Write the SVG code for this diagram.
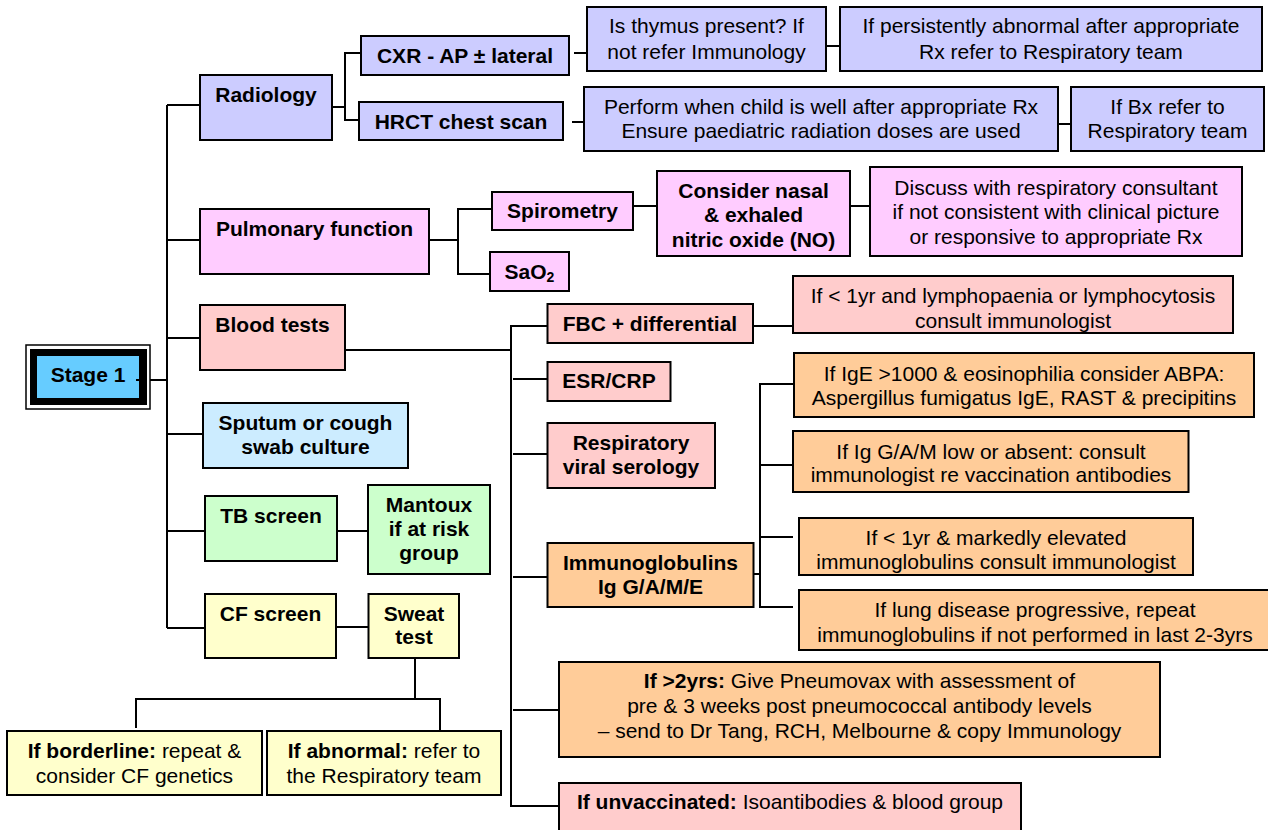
<svg xmlns="http://www.w3.org/2000/svg" width="1268" height="830" viewBox="0 0 1268 830">
<style>
.box{stroke:#000;stroke-width:2}
.rad{fill:#CCCCFF}.pul{fill:#FFCCFF}.bld{fill:#FFCCCC}.spu{fill:#CCECFF}.tb{fill:#CCFFCC}.cf{fill:#FFFFCC}.img{fill:#FFCC99}
.t{font-family:"Liberation Sans",Arial,Helvetica,sans-serif;font-size:21px;text-anchor:middle;fill:#000}
.b{font-weight:bold}
.c{fill:none;stroke:#000;stroke-width:2}
</style>
<rect width="1268" height="830" fill="#fff"/>
<g id="connectors" class="c">
<path d="M167,105 V628"/>
<path d="M136,380 H167"/>
<path d="M167,105 H200 M167,240 H200 M167,338 H200 M167,434 H203 M167,531 H205 M167,628 H205"/>
<path d="M332,107 H345 M361,53 H345 V120 H359"/>
<path d="M574,53 H587 M572,122 H584 M826,46 H840 M1058,124 H1071"/>
<path d="M427,240 H458 M492,209 H458 V274 H490"/>
<path d="M633,206 H657 M850,206 H870"/>
<path d="M345,350 H511 M547,326 H511 V806 H559 M513,379 H547 M513,454 H547 M513,577 H547 M513,710 H559"/>
<path d="M753,326 H793"/>
<path d="M746,574 H760 M794,384 H760 V607 H793 M760,465 H793 M760,537 H793"/>
<path d="M337,531 H368 M336,627 H368"/>
<path d="M415,658 V699 M136,728 V699 H440 V730"/>
</g>
<g id="stage1">
<rect x="26" y="345" width="124" height="64" fill="#fff" stroke="#000" stroke-width="1.5"/>
<rect x="30" y="349" width="117" height="56" fill="#000"/>
<rect x="37" y="356" width="102" height="42" fill="#66CCFF"/>
<path d="M136,380 H147" stroke="#000" stroke-width="2"/>
<text class="t b" x="88" y="382">Stage 1</text>
</g>
<g id="radiology"><rect class="box rad" x="200" y="75" width="132" height="65"/><text class="t b" x="266" y="102">Radiology</text></g>
<g id="cxr"><rect class="box rad" x="361" y="36" width="208" height="39"/><text class="t b" x="465" y="63">CXR - AP ± lateral</text></g>
<g id="hrct"><rect class="box rad" x="359" y="102" width="204" height="38"/><text class="t b" x="461" y="129">HRCT chest scan</text></g>
<g id="thymus"><rect class="box rad" x="587" y="7" width="239" height="64"/><text class="t" x="706.5" y="33">Is thymus present? If</text><text class="t" x="706.5" y="59">not refer Immunology</text></g>
<g id="persist"><rect class="box rad" x="840" y="7" width="422" height="64"/><text class="t" x="1051" y="33">If persistently abnormal after appropriate</text><text class="t" x="1051" y="59">Rx refer to Respiratory team</text></g>
<g id="perform"><rect class="box rad" x="584" y="87" width="474" height="64"/><text class="t" x="821" y="114">Perform when child is well after appropriate Rx</text><text class="t" x="821" y="138">Ensure paediatric radiation doses are used</text></g>
<g id="bx"><rect class="box rad" x="1071" y="87" width="193" height="64"/><text class="t" x="1167.5" y="114">If Bx refer to</text><text class="t" x="1167.5" y="138">Respiratory team</text></g>
<g id="pulmonary"><rect class="box pul" x="200" y="209" width="229" height="65"/><text class="t b" x="314.5" y="236">Pulmonary function</text></g>
<g id="spirometry"><rect class="box pul" x="492" y="192" width="141" height="38"/><text class="t b" x="562.5" y="218">Spirometry</text></g>
<g id="sao2"><rect class="box pul" x="490" y="252" width="79" height="39"/><text class="t b" x="529.5" y="279">SaO<tspan font-size="14" dy="3">2</tspan></text></g>
<g id="nitric"><rect class="box pul" x="657" y="171" width="193" height="85"/><text class="t b" x="753.5" y="198">Consider nasal</text><text class="t b" x="753.5" y="222">&amp; exhaled</text><text class="t b" x="753.5" y="247">nitric oxide (NO)</text></g>
<g id="discuss"><rect class="box pul" x="870" y="167" width="372" height="89"/><text class="t" x="1056" y="195">Discuss with respiratory consultant</text><text class="t" x="1056" y="219">if not consistent with clinical picture</text><text class="t" x="1056" y="244">or responsive to appropriate Rx</text></g>
<g id="blood"><rect class="box bld" x="200" y="305" width="145" height="65"/><text class="t b" x="272.5" y="332">Blood tests</text></g>
<g id="fbc"><rect class="box bld" x="547.5" y="304" width="205.5" height="39"/><text class="t b" x="650" y="331">FBC + differential</text></g>
<g id="lymph"><rect class="box bld" x="793" y="276" width="440" height="57"/><text class="t" x="1013" y="303">If &lt; 1yr and lymphopaenia or lymphocytosis</text><text class="t" x="1013" y="328">consult immunologist</text></g>
<g id="esr"><rect class="box bld" x="547.5" y="362" width="123" height="39"/><text class="t b" x="609" y="388">ESR/CRP</text></g>
<g id="viral"><rect class="box bld" x="547.5" y="423" width="167.5" height="65"/><text class="t b" x="631" y="450">Respiratory</text><text class="t b" x="631" y="474">viral serology</text></g>
<g id="immuno"><rect class="box img" x="547.5" y="543" width="206" height="64"/><text class="t b" x="650.5" y="570">Immunoglobulins</text><text class="t b" x="650.5" y="594">Ig G/A/M/E</text></g>
<g id="ige"><rect class="box img" x="794" y="353" width="460" height="64"/><text class="t" x="1024" y="381">If IgE &gt;1000 &amp; eosinophilia consider ABPA:</text><text class="t" x="1024" y="405">Aspergillus fumigatus IgE, RAST &amp; precipitins</text></g>
<g id="iggam"><rect class="box img" x="793" y="431" width="395.5" height="61"/><text class="t" x="991" y="459">If Ig G/A/M low or absent: consult</text><text class="t" x="991" y="482">immunologist re vaccination antibodies</text></g>
<g id="elevated"><rect class="box img" x="799" y="518" width="394" height="57"/><text class="t" x="996" y="545">If &lt; 1yr &amp; markedly elevated</text><text class="t" x="996" y="569">immunoglobulins consult immunologist</text></g>
<g id="lung"><rect class="box img" x="799" y="590" width="476" height="60"/><text class="t" x="1035" y="617">If lung disease progressive, repeat</text><text class="t" x="1035" y="642">immunoglobulins if not performed in last 2-3yrs</text></g>
<g id="pneumovax"><rect class="box img" x="559" y="662" width="601" height="95"/><text class="t" x="859.5" y="688"><tspan class="b">If &gt;2yrs:</tspan> Give Pneumovax with assessment of</text><text class="t" x="859.5" y="713">pre &amp; 3 weeks post pneumococcal antibody levels</text><text class="t" x="859.5" y="738">– send to Dr Tang, RCH, Melbourne &amp; copy Immunology</text></g>
<g id="unvac"><rect class="box bld" x="559" y="783" width="462" height="60"/><text class="t" x="790" y="809"><tspan class="b">If unvaccinated:</tspan> Isoantibodies &amp; blood group</text></g>
<g id="sputum"><rect class="box spu" x="203" y="403" width="205" height="65"/><text class="t b" x="305.5" y="430">Sputum or cough</text><text class="t b" x="305.5" y="454">swab culture</text></g>
<g id="tb"><rect class="box tb" x="205" y="496" width="132" height="65"/><text class="t b" x="271" y="523">TB screen</text></g>
<g id="mantoux"><rect class="box tb" x="368" y="485" width="122" height="89"/><text class="t b" x="429" y="512">Mantoux</text><text class="t b" x="429" y="536">if at risk</text><text class="t b" x="429" y="560">group</text></g>
<g id="cfscreen"><rect class="box cf" x="205" y="594" width="131" height="64"/><text class="t b" x="270.5" y="621">CF screen</text></g>
<g id="sweat"><rect class="box cf" x="368.5" y="594" width="90.5" height="64"/><text class="t b" x="414" y="621">Sweat</text><text class="t b" x="414" y="644">test</text></g>
<g id="borderline"><rect class="box cf" x="7" y="731" width="255" height="64"/><text class="t" x="134.5" y="758"><tspan class="b">If borderline:</tspan> repeat &amp;</text><text class="t" x="134.5" y="783">consider CF genetics</text></g>
<g id="abnormal"><rect class="box cf" x="267" y="731" width="234" height="64"/><text class="t" x="384" y="758"><tspan class="b">If abnormal:</tspan> refer to</text><text class="t" x="384" y="783">the Respiratory team</text></g>
</svg>
